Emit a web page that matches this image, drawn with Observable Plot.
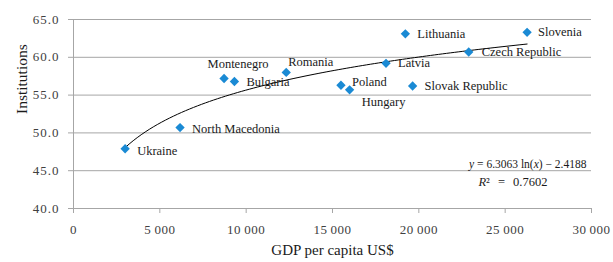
<!DOCTYPE html>
<html>
<head>
<meta charset="utf-8">
<script src="https://cdn.jsdelivr.net/npm/d3@7"></script>
<script src="https://cdn.jsdelivr.net/npm/@observablehq/plot@0.6"></script>
<style>
  html, body { margin: 0; padding: 0; background: #fff; }
  #chart svg { display: block; font-family: "Liberation Serif", "Times New Roman", "DejaVu Serif", serif !important; }
  #chart svg text { font-family: "Liberation Serif", "Times New Roman", "DejaVu Serif", serif !important; }
  #chart g[aria-label="y-axis tick label"] text { letter-spacing: 1px; }
  #chart g[aria-label="x-axis tick label"] text { letter-spacing: 0.5px; }
</style>
</head>
<body>
<div id="chart"></div>
<script>
// ---- Data ----
const countries = ["Ukraine", "North Macedonia", "Montenegro", "Bulgaria", "Romania", "Poland", "Hungary", "Latvia", "Lithuania", "Slovak Republic", "Czech Republic", "Slovenia"];
const gdpPerCapita = [2990, 6170, 8720, 9320, 12320, 15490, 15990, 18100, 19220, 19640, 22890, 26270];
const institutions = [47.9, 50.7, 57.2, 56.8, 58.0, 56.3, 55.7, 59.2, 63.1, 56.2, 60.7, 63.3];
const xTicks = [0, 5000, 10000, 15000, 20000, 25000, 30000];
const yTicks = [40, 45, 50, 55, 60, 65];
// Trend line as printed on the chart: y = a ln(x) + b
const trendA = 6.3063;
const trendB = -2.4188;
const rSquared = 0.7602;

// ---- Layout (not data) ----
const labelPlacement = {
  "Ukraine": [12, 2, "start"],
  "North Macedonia": [12, 1, "start"],
  "Montenegro": [14, -14, "middle"],
  "Bulgaria": [12, 1, "start"],
  "Romania": [2, -10, "start"],
  "Poland": [11, -3, "start"],
  "Hungary": [34, 12, "middle"],
  "Latvia": [12, 0, "start"],
  "Lithuania": [12, 0, "start"],
  "Slovak Republic": [12, 0, "start"],
  "Czech Republic": [13, 0, "start"],
  "Slovenia": [11, 0, "start"]
};

const points = countries.map((c, i) => ({country: c, gdp: gdpPerCapita[i], inst: institutions[i]}));

// trend curve sampled along the fitted equation between first and last country
const xMin = d3.min(gdpPerCapita), xMax = d3.max(gdpPerCapita);
const trend = d3.range(0, 101).map(k => {
  const x = xMin + (xMax - xMin) * k / 100;
  return {x, y: trendA * Math.log(x) + trendB};
});

const loc = d3.formatLocale({decimal: ".", thousands: "\u2009", grouping: [3], currency: ["", ""]});
const fmtX = loc.format(",");
const fmtY = d3.format(".1f");

const font = "Liberation Serif";
const gridColor = "#a6a6a6";

const labelMarks = countries.map((c) => {
  const [dx, dy, anchor] = labelPlacement[c];
  return Plot.text(points.filter(p => p.country === c), {
    x: "gdp", y: "inst", text: "country",
    dx, dy, textAnchor: anchor,
    fill: "#1a1a1a", fontSize: 12.5, fontFamily: font
  });
});

const eqText = `y = ${trendA} ln(x) \u2212 ${Math.abs(trendB)}`;
const r2Text = `R\u00b2 = ${rSquared}`;

const plot = Plot.plot({
  width: 613,
  height: 262,
  marginLeft: 73,
  marginRight: 22,
  marginTop: 19,
  marginBottom: 54,
  style: {fontFamily: font, background: "#fff", overflow: "visible"},
  x: {domain: [0, 30000], ticks: xTicks, tickFormat: fmtX, label: null},
  y: {domain: [40, 65], ticks: yTicks, tickFormat: fmtY, label: null},
  marks: [
    Plot.ruleY(yTicks, {stroke: gridColor, strokeWidth: 1, x1: 0, x2: 30000}),
    Plot.ruleX([0], {stroke: gridColor, strokeWidth: 1}),
    Plot.axisY({ticks: yTicks, tickFormat: fmtY, tickSize: 5, tickPadding: 9, stroke: gridColor, fill: "#404040", fontSize: 13, fontFamily: font, label: null}),
    Plot.axisX({ticks: xTicks, tickFormat: fmtX, tickSize: 5, tickPadding: 11, stroke: gridColor, fill: "#404040", fontSize: 13, fontFamily: font, label: null}),
    Plot.line(trend, {x: "x", y: "y", stroke: "#000", strokeWidth: 1}),
    Plot.dot(points, {x: "gdp", y: "inst", symbol: "diamond2", r: 4.2, fill: "#1a8ad4", stroke: "none"}),
    ...labelMarks,
    Plot.text([eqText], {frameAnchor: "bottom-right", dx: -5, dy: -41, textAnchor: "end", fontSize: 11.5, fontFamily: font, fill: "#1a1a1a"}),
    Plot.text([r2Text], {frameAnchor: "bottom-right", dx: -44, dy: -23, textAnchor: "end", fontSize: 12.5, fontFamily: font, fill: "#1a1a1a"}),
    Plot.text(["Institutions"], {frameAnchor: "left", dx: -51, rotate: -90, fontSize: 15.5, fontFamily: font, fill: "#1a1a1a"}),
    Plot.text(["GDP per capita US$"], {frameAnchor: "bottom", dy: 46, fontSize: 15, fontFamily: font, fill: "#1a1a1a"})
  ]
});

document.getElementById("chart").appendChild(plot);

// Italicise the variables in the equation text
d3.select(plot).selectAll("text").each(function () {
  const t = this.textContent;
  if (t === eqText) {
    const el = d3.select(this).text(null);
    el.append("tspan").attr("font-style", "italic").text("y");
    el.append("tspan").text(` = ${trendA} ln(`);
    el.append("tspan").attr("font-style", "italic").text("x");
    el.append("tspan").text(`) \u2212 ${Math.abs(trendB)}`);
  } else if (t === r2Text) {
    const el = d3.select(this).text(null).style("word-spacing", "5px");
    el.append("tspan").attr("font-style", "italic").text("R");
    el.append("tspan").text(`\u00b2 = ${rSquared}`);
  }
});
</script>
</body>
</html>
